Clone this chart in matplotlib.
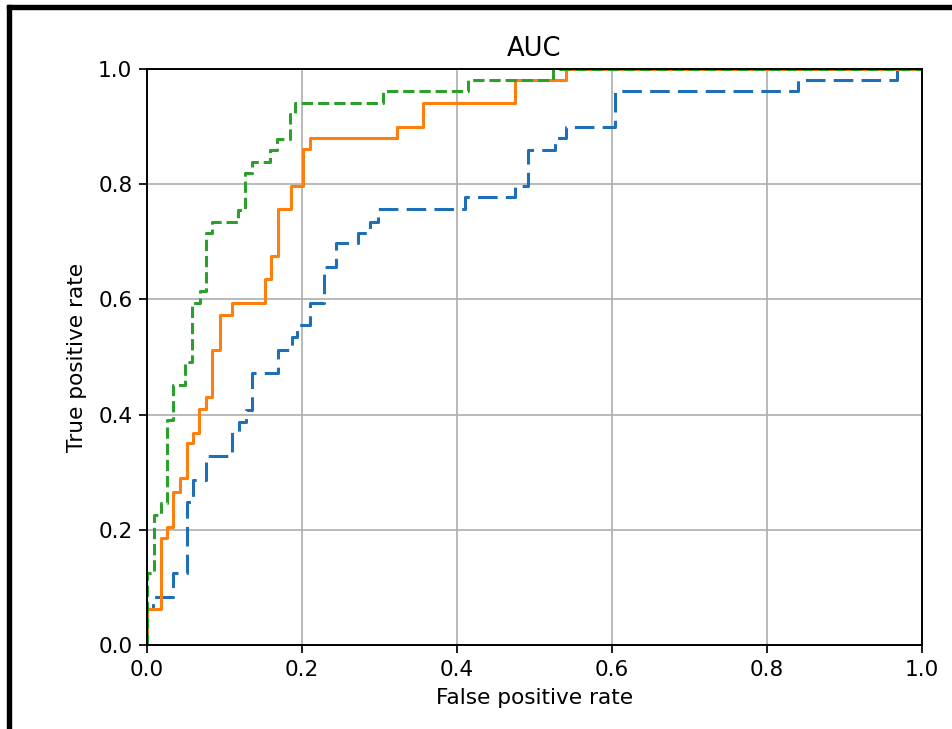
import matplotlib
matplotlib.use("Agg")
import matplotlib.pyplot as plt
from matplotlib.patches import Rectangle

# ROC curve corner points
fpr_blue = [0.0, 0.0, 0.008, 0.008, 0.034, 0.034, 0.052, 0.052, 0.059, 0.059, 0.076, 0.076,
            0.110, 0.110, 0.119, 0.119, 0.128, 0.128, 0.135, 0.135, 0.169, 0.169, 0.187, 0.187,
            0.194, 0.194, 0.210, 0.210, 0.228, 0.228, 0.244, 0.244, 0.272, 0.272, 0.288, 0.288,
            0.298, 0.298, 0.410, 0.410, 0.475, 0.475, 0.492, 0.492, 0.526, 0.526, 0.541, 0.541,
            0.604, 0.604, 0.840, 0.840, 0.968, 0.968, 1.0]
tpr_blue = [0.0, 0.0625, 0.0625, 0.083, 0.083, 0.125, 0.125, 0.248, 0.248, 0.286, 0.286, 0.328,
            0.328, 0.370, 0.370, 0.387, 0.387, 0.408, 0.408, 0.472, 0.472, 0.512, 0.512, 0.535,
            0.535, 0.555, 0.555, 0.594, 0.594, 0.656, 0.656, 0.698, 0.698, 0.715, 0.715, 0.734,
            0.734, 0.757, 0.757, 0.778, 0.778, 0.797, 0.797, 0.859, 0.859, 0.880, 0.880, 0.899,
            0.899, 0.962, 0.962, 0.981, 0.981, 1.0, 1.0]

fpr_orange = [0.0, 0.0, 0.018, 0.018, 0.026, 0.026, 0.034, 0.034, 0.043, 0.043, 0.052, 0.052,
              0.059, 0.059, 0.067, 0.067, 0.076, 0.076, 0.084, 0.084, 0.094, 0.094, 0.110, 0.110,
              0.152, 0.152, 0.160, 0.160, 0.169, 0.169, 0.186, 0.186, 0.201, 0.201, 0.210, 0.210,
              0.323, 0.323, 0.356, 0.356, 0.475, 0.475, 0.541, 0.541, 1.0]
tpr_orange = [0.0, 0.0625, 0.0625, 0.186, 0.186, 0.205, 0.205, 0.266, 0.266, 0.290, 0.290, 0.350,
              0.350, 0.368, 0.368, 0.410, 0.410, 0.430, 0.430, 0.512, 0.512, 0.573, 0.573, 0.594,
              0.594, 0.635, 0.635, 0.675, 0.675, 0.757, 0.757, 0.797, 0.797, 0.861, 0.861, 0.880,
              0.880, 0.899, 0.899, 0.941, 0.941, 0.981, 0.981, 1.0, 1.0]

fpr_green = [0.0, 0.0, 0.009, 0.009, 0.018, 0.018, 0.026, 0.026, 0.034, 0.034, 0.049, 0.049,
             0.058, 0.058, 0.068, 0.068, 0.076, 0.076, 0.084, 0.084, 0.117, 0.117, 0.126, 0.126,
             0.135, 0.135, 0.159, 0.159, 0.168, 0.168, 0.185, 0.185, 0.191, 0.191, 0.305, 0.305,
             0.414, 0.414, 0.524, 0.524, 1.0]
tpr_green = [0.0, 0.125, 0.125, 0.226, 0.226, 0.247, 0.247, 0.391, 0.391, 0.451, 0.451, 0.491,
             0.491, 0.594, 0.594, 0.614, 0.614, 0.715, 0.715, 0.734, 0.734, 0.755, 0.755, 0.819,
             0.819, 0.839, 0.839, 0.859, 0.859, 0.878, 0.878, 0.922, 0.922, 0.941, 0.941, 0.962,
             0.962, 0.981, 0.981, 1.0, 1.0]

title = "AUC"
xlabel = "False positive rate"
ylabel = "True positive rate"
ticks = [0.0, 0.2, 0.4, 0.6, 0.8, 1.0]

W, H = 952, 729
fig = plt.figure(figsize=(W / 100, H / 100), dpi=100)
ax = fig.add_axes([147 / W, (H - 645) / H, (922 - 147) / W, (645 - 69) / H])

lw = 2.2
ax.plot(fpr_blue, tpr_blue, color="#1f6fb8", lw=lw, linestyle=(0, (6.4, 2.7)), zorder=2)
ax.plot(fpr_orange, tpr_orange, color="#ff7f0e", lw=lw, linestyle="-", zorder=2)
ax.plot(fpr_green, tpr_green, color="#2ca02c", lw=lw, linestyle="--", zorder=2)

ax.set_xlim(0, 1)
ax.set_ylim(0, 1)
ax.set_xticks(ticks)
ax.set_yticks(ticks)
ax.set_xticklabels([f"{t:.1f}" for t in ticks])
ax.set_yticklabels([f"{t:.1f}" for t in ticks])
ax.tick_params(labelsize=15.6, width=1.25, length=5.5, pad=5)
ax.grid(True, color="#b0b0b0", lw=1.25)
ax.set_axisbelow(True)
for s in ax.spines.values():
    s.set_linewidth(1.4)
    s.set_zorder(2.5)
ax.set_title(title, fontsize=18.5, pad=9)
ax.set_xlabel(xlabel, fontsize=15.6, labelpad=6)
ax.set_ylabel(ylabel, fontsize=15.6, labelpad=8)

# black frame strips at top and left (screenshot border)
fig.patches.append(Rectangle((7 / W, 0), 4 / W, (H - 5) / H, transform=fig.transFigure,
                             color="black", zorder=10))
fig.patches.append(Rectangle((7 / W, (H - 9) / H), (W - 7) / W, 4 / H, transform=fig.transFigure,
                             color="black", zorder=10))

fig.savefig("out.png", dpi=100)
